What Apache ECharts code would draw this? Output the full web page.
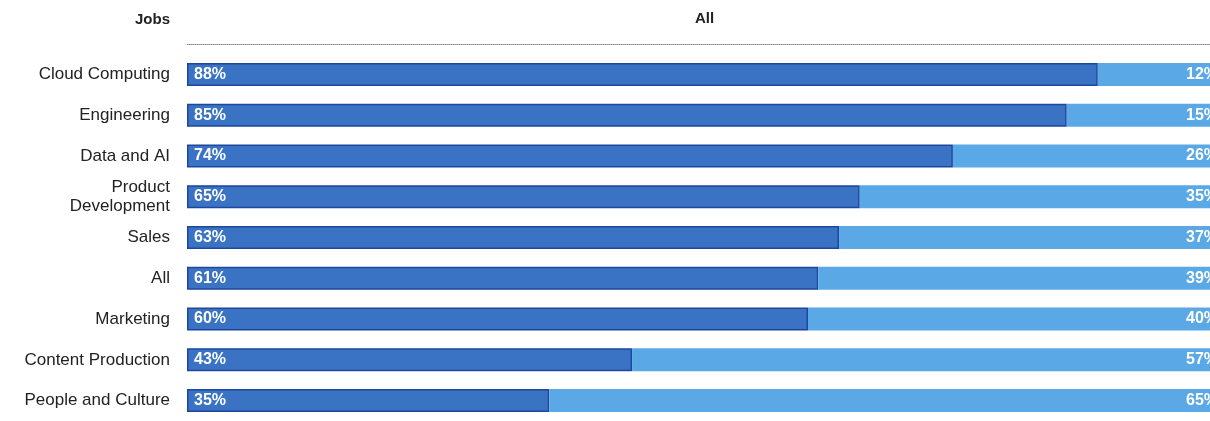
<!DOCTYPE html>
<html>
<head>
<meta charset="utf-8">
<script src="https://cdn.jsdelivr.net/npm/echarts@6/dist/echarts.min.js"></script>
<style>
html,body{margin:0;padding:0;background:#fff;}
#c{width:1210px;height:421px;}
</style>
</head>
<body>
<div id="c"></div>
<script>
const categories = ['Cloud Computing','Engineering','Data and AI','Product\nDevelopment','Sales','All','Marketing','Content Production','People and Culture'];
const shareA = [88,85,74,65,63,61,60,43,35];
const shareB = [12,15,26,35,37,39,40,57,65];
const headerLeft = 'Jobs';
const headerRight = 'All';

const FONT = '"Liberation Sans", Arial, Helvetica, sans-serif';
const chart = echarts.init(document.getElementById('c'), null, {renderer:'canvas'});
chart.setOption({
  animation:false,
  backgroundColor:'#ffffff',
  textStyle:{fontFamily:FONT},
  title:{
    text:headerLeft, right:1040, top:12, padding:0,
    textStyle:{fontFamily:FONT, fontSize:15, fontWeight:'bold', color:'#222'}
  },
  grid:{left:187, right:-12, top:54, bottom:0, containLabel:false, outerBoundsMode:'none'},
  xAxis:{
    type:'value', min:0, max:100, position:'top', offset:10,
    name:headerRight, nameLocation:'middle', nameGap:18,
    nameTextStyle:{fontFamily:FONT, fontSize:15, fontWeight:'bold', color:'#222'},
    axisLine:{show:true, lineStyle:{color:'#8a8a8a', type:'dotted', width:1}},
    axisTick:{show:false}, axisLabel:{show:false}, splitLine:{show:false}
  },
  yAxis:{
    type:'category', inverse:true, data:categories,
    axisLine:{show:false}, axisTick:{show:false}, splitLine:{show:false},
    axisLabel:{fontFamily:FONT, fontSize:17, color:'#222', margin:17, lineHeight:19}
  },
  series:[
    {
      type:'bar', stack:'s', data:shareA, barWidth:23,
      itemStyle:{color:'#3a73c3', borderColor:'#1d469c', borderWidth:1.5},
      label:{show:true, position:'insideLeft', distance:7, formatter:'{c}%',
        color:'#fff', fontFamily:FONT, fontSize:16, fontWeight:'bold'}
    },
    {
      type:'bar', stack:'s', data:shareB, barWidth:23,
      itemStyle:{color:'#5aa9e6'},
      label:{show:true, position:'insideRight', distance:4, formatter:'{c}%',
        color:'#fff', fontFamily:FONT, fontSize:16, fontWeight:'bold'}
    }
  ]
});
</script>
</body>
</html>
